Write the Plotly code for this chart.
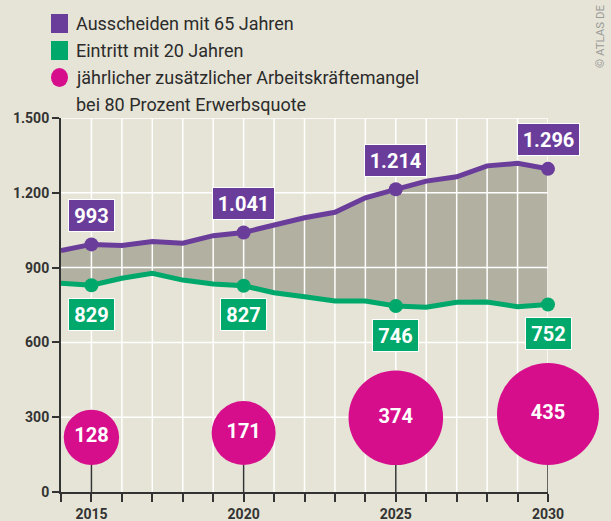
import math
import plotly.graph_objects as go

# ---------------- data ----------------
years = list(range(2014, 2031))
ausscheiden = [968, 993, 989, 1005, 998, 1028, 1041, 1070, 1100, 1122, 1180, 1214, 1247, 1264, 1308, 1318, 1296]
eintritt = [837, 829, 857, 877, 850, 834, 827, 799, 783, 766, 766, 746, 741, 761, 762, 743, 752]
label_years = [2015, 2020, 2025, 2030]
mangel = [128, 171, 374, 435]
y_ticks = [0, 300, 600, 900, 1200, 1500]
x_label_years = [2015, 2020, 2025, 2030]

legend_texts = ["Ausscheiden mit 65 Jahren", "Eintritt mit 20 Jahren",
                "jährlicher zusätzlicher Arbeitskräftemangel", "bei 80 Prozent Erwerbsquote"]
credit = "© ATLAS DE"

# ---------------- style ----------------
BG = "#e6e4d6"
FILL = "#b2b0a0"
PURPLE = "#6a3d9a"
GREEN = "#00a86b"
MAGENTA = "#d70e8c"
DARK = "#333333"
FONT = "Roboto, 'Open Sans', sans-serif"

W, H = 611, 521
PL, PR, PT, PB = 61, 548, 118, 492
Y_MAX = 1500
px_per_unit = (PB - PT) / Y_MAX

def px_x(px):
    return (px - PL) / (PR - PL)

def px_y(py):
    return (PB - py) / (PB - PT)

def fmt(v):
    return f"{v:,}".replace(",", ".")

fig = go.Figure()

# filled band between the two series
fig.add_trace(go.Scatter(x=years, y=eintritt, mode="lines", line=dict(width=0),
                         hoverinfo="skip", showlegend=False))
fig.add_trace(go.Scatter(x=years, y=ausscheiden, mode="lines", line=dict(width=0),
                         fill="tonexty", fillcolor=FILL, hoverinfo="skip", showlegend=False))

# white grid drawn over the band
gx, gy = [], []
for yv in y_ticks[1:]:
    gx += [years[0], years[-1], None]
    gy += [yv, yv, None]
for xv in years[1:]:
    gx += [xv, xv, None]
    gy += [0, Y_MAX, None]
fig.add_trace(go.Scatter(x=gx, y=gy, mode="lines", line=dict(color="white", width=1.5),
                         hoverinfo="skip", showlegend=False))

# bubbles: area proportional, bottom-aligned above the axis
r_max = 51
base_px = 27
radii = [r_max * math.sqrt(v / max(mangel)) for v in mangel]
base_val = base_px / px_per_unit
centers = [base_val + r / px_per_unit for r in radii]

# stems
sx, sy = [], []
for yr in label_years:
    sx += [yr, yr, None]
    sy += [0, base_val, None]
fig.add_trace(go.Scatter(x=sx, y=sy, mode="lines", line=dict(color=DARK, width=1.5),
                         hoverinfo="skip", showlegend=False))

# lines
sizes = [14 if y in label_years else 0 for y in years]
fig.add_trace(go.Scatter(x=years, y=ausscheiden, mode="lines+markers",
                         line=dict(color=PURPLE, width=5),
                         marker=dict(color=PURPLE, size=sizes, opacity=1, line=dict(width=0)),
                         cliponaxis=False, showlegend=False))
fig.add_trace(go.Scatter(x=years, y=eintritt, mode="lines+markers",
                         line=dict(color=GREEN, width=5),
                         marker=dict(color=GREEN, size=sizes, opacity=1, line=dict(width=0)),
                         cliponaxis=False, showlegend=False))

fig.add_trace(go.Scatter(x=label_years, y=centers, mode="markers+text",
                         marker=dict(color=MAGENTA, size=[2 * r for r in radii], opacity=1,
                                     line=dict(width=0)),
                         text=[str(v) for v in mangel], textposition="middle center",
                         textfont=dict(family=FONT, size=20, color="white", weight="bold"),
                         cliponaxis=False, showlegend=False))

annotations = []
for yr in label_years:
    i = years.index(yr)
    for val, col, shift in [(ausscheiden[i], PURPLE, 29), (eintritt[i], GREEN, -29)]:
        t = fmt(val)
        annotations.append(dict(
            x=yr, y=val, yshift=shift, text=t, showarrow=False,
            font=dict(family=FONT, size=20, color="white", weight="bold"),
            bgcolor=col, bordercolor="white", borderwidth=1, borderpad=3,
            width=8 * len(t) + 15, height=25, xanchor="center", yanchor="middle"))

# legend
legend_rows = [23.5, 50.5, 77.5, 104.5]
fig.add_shape(type="rect", xref="paper", yref="paper", x0=px_x(51), x1=px_x(68),
              y0=px_y(33), y1=px_y(14), fillcolor=PURPLE, line=dict(width=0))
fig.add_shape(type="rect", xref="paper", yref="paper", x0=px_x(51), x1=px_x(68),
              y0=px_y(60), y1=px_y(41), fillcolor=GREEN, line=dict(width=0))
fig.add_shape(type="circle", xref="paper", yref="paper", x0=px_x(51), x1=px_x(68),
              y0=px_y(87), y1=px_y(68), fillcolor=MAGENTA, line=dict(width=0))
for txt, row in zip(legend_texts, legend_rows):
    annotations.append(dict(x=px_x(74), y=px_y(row), xref="paper", yref="paper",
                            text=txt, showarrow=False, xanchor="left", yanchor="middle",
                            font=dict(family=FONT, size=18, color="#2b2b2b")))

annotations.append(dict(x=px_x(600), y=px_y(70), xref="paper", yref="paper", text=credit,
                        textangle=-90, showarrow=False, xanchor="center", yanchor="bottom",
                        font=dict(family=FONT, size=11.5, color="#9a9a9a")))

fig.update_layout(
    width=W, height=H, autosize=False,
    margin=dict(l=PL, r=W - PR, t=PT, b=H - PB, pad=0, autoexpand=False),
    paper_bgcolor=BG, plot_bgcolor=BG,
    separators=",.",
    showlegend=False,
    annotations=annotations,
    font=dict(family=FONT, color=DARK),
)
fig.update_xaxes(range=[years[0], years[-1]], showgrid=False, zeroline=False, automargin=False,
                 showline=True, linecolor=DARK, linewidth=2,
                 tickmode="array", tickvals=years,
                 ticktext=[str(y) if y in x_label_years else "" for y in years],
                 ticks="outside", ticklen=8, tickwidth=1.5, tickcolor=DARK,
                 tickfont=dict(family=FONT, size=14, color=DARK, weight="bold"))
fig.update_yaxes(range=[0, Y_MAX], showgrid=False, zeroline=False, automargin=False,
                 showline=True, linecolor=DARK, linewidth=2,
                 tickmode="array", tickvals=y_ticks, tickformat=",d",
                 ticks="outside", ticklen=7, tickwidth=1.5, tickcolor=DARK,
                 tickfont=dict(family=FONT, size=14, color=DARK, weight="bold"))

fig.write_html("out.html", config={"displayModeBar": False},
               post_script="document.body.style.margin='0';")
